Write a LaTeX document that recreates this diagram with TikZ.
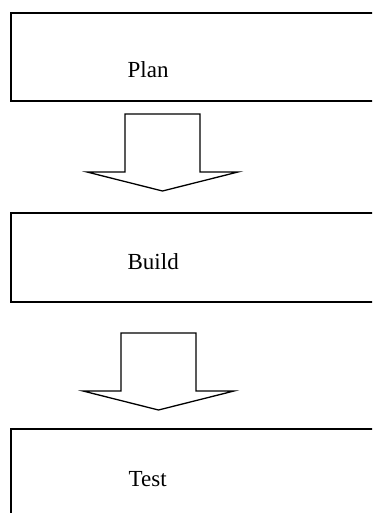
\documentclass[tikz,border=0pt]{standalone}
\usepackage{fontspec}
\setmainfont{Liberation Serif}
\begin{document}
\begin{tikzpicture}[x=1pt, y=-1pt, line width=1.3pt,
        step text/.style={font=\fontsize{23}{27}\selectfont, inner sep=0pt, anchor=base west}]
        \useasboundingbox (0,0) rectangle (372,513);
        \clip (0,0) rectangle (372,513);
        % boxes, cut off at the right
        \draw (11,13) rectangle (400,101);
        \draw (11,213) rectangle (400,302);
        \draw (11,429) rectangle (400,540);
        \node[step text] (plan) at (127,78) {Plan};
        \node[step text] (build) at (127,269) {Build};
        \node[step text] (test) at (128,486) {Test};
        % block arrows
        \foreach \x/\y in {162.5/114, 158.5/333}
        {
            \draw (\x-37.5,\y) -- (\x+37.5,\y) -- (\x+37.5,\y+58)
                -- (\x+75.5,\y+58) -- (\x,\y+77) -- (\x-75.5,\y+58)
                -- (\x-37.5,\y+58) -- cycle;
        }
    \end{tikzpicture}
\end{document}
